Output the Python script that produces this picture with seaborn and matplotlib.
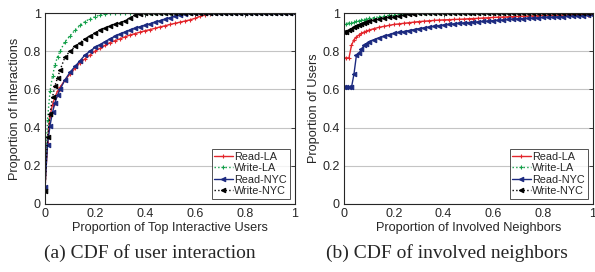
import matplotlib
matplotlib.use("Agg")
import matplotlib.pyplot as plt
import seaborn as sns

sns.set_style("white")
plt.rcParams["font.family"] = ["Liberation Sans", "DejaVu Sans"]

# ---- panel (a): CDF of user interaction ----
x_a = [0.00, 0.01, 0.02, 0.03, 0.04, 0.05, 0.06, 0.08, 0.10, 0.12, 0.14, 0.16, 0.18,
       0.20, 0.22, 0.24, 0.26, 0.28, 0.30, 0.32, 0.34, 0.36, 0.38, 0.40, 0.42, 0.44,
       0.46, 0.48, 0.50, 0.52, 0.54, 0.56, 0.58, 0.60, 0.62, 0.64, 0.66, 0.68, 0.70,
       0.72, 0.74, 0.76, 0.78, 0.80, 0.82, 0.84, 0.86, 0.88, 0.90, 0.92, 0.94, 0.96,
       0.98, 1.00]
read_la_a = [0.08, 0.32, 0.46, 0.52, 0.56, 0.59, 0.61, 0.65, 0.68, 0.71, 0.74, 0.76, 0.78,
             0.80, 0.815, 0.83, 0.845, 0.855, 0.865, 0.875, 0.885, 0.892, 0.90, 0.907, 0.913,
             0.92, 0.927, 0.933, 0.94, 0.946, 0.952, 0.958, 0.964, 0.972, 0.982, 0.99, 0.997,
             1.0, 1.0, 1.0, 1.0, 1.0, 1.0, 1.0, 1.0, 1.0, 1.0, 1.0, 1.0, 1.0, 1.0, 1.0,
             1.0, 1.0]
write_la_a = [0.08, 0.44, 0.59, 0.67, 0.73, 0.77, 0.80, 0.85, 0.88, 0.91, 0.935, 0.955, 0.97,
              0.98, 0.99, 0.997, 1.0, 1.0, 1.0, 1.0, 1.0, 1.0, 1.0, 1.0, 1.0, 1.0,
              1.0, 1.0, 1.0, 1.0, 1.0, 1.0, 1.0, 1.0, 1.0, 1.0, 1.0, 1.0, 1.0,
              1.0, 1.0, 1.0, 1.0, 1.0, 1.0, 1.0, 1.0, 1.0, 1.0, 1.0, 1.0, 1.0,
              1.0, 1.0]
read_nyc_a = [0.09, 0.31, 0.41, 0.48, 0.53, 0.57, 0.60, 0.65, 0.69, 0.72, 0.75, 0.78, 0.80,
              0.82, 0.835, 0.85, 0.865, 0.878, 0.89, 0.90, 0.91, 0.92, 0.928, 0.935, 0.943,
              0.952, 0.96, 0.967, 0.975, 0.983, 0.99, 0.997, 1.0, 1.0, 1.0, 1.0, 1.0,
              1.0, 1.0, 1.0, 1.0, 1.0, 1.0, 1.0, 1.0, 1.0, 1.0, 1.0, 1.0, 1.0, 1.0, 1.0,
              1.0, 1.0]
write_nyc_a = [0.07, 0.35, 0.47, 0.56, 0.62, 0.66, 0.70, 0.77, 0.80, 0.825, 0.845, 0.865, 0.88,
               0.895, 0.91, 0.92, 0.93, 0.94, 0.95, 0.96, 0.975, 0.99, 0.997, 1.0, 1.0, 1.0,
               1.0, 1.0, 1.0, 1.0, 1.0, 1.0, 1.0, 1.0, 1.0, 1.0, 1.0, 1.0, 1.0,
               1.0, 1.0, 1.0, 1.0, 1.0, 1.0, 1.0, 1.0, 1.0, 1.0, 1.0, 1.0, 1.0,
               1.0, 1.0]

# ---- panel (b): CDF of involved neighbors ----
x_b = [0.00, 0.01, 0.02, 0.03, 0.04, 0.05, 0.06, 0.07, 0.08, 0.09, 0.10,
       0.12, 0.14, 0.16, 0.18, 0.20, 0.22, 0.24, 0.26, 0.28, 0.30,
       0.32, 0.34, 0.36, 0.38, 0.40, 0.42, 0.44, 0.46, 0.48, 0.50,
       0.52, 0.54, 0.56, 0.58, 0.60, 0.62, 0.64, 0.66, 0.68, 0.70,
       0.72, 0.74, 0.76, 0.78, 0.80, 0.82, 0.84, 0.86, 0.88, 0.90,
       0.92, 0.94, 0.96, 0.98, 1.00]
read_la_b = [0.765, 0.765, 0.765, 0.83, 0.86, 0.875, 0.885, 0.893, 0.90, 0.905, 0.91,
             0.918, 0.925, 0.93, 0.935, 0.94, 0.943, 0.946, 0.949, 0.952, 0.955,
             0.957, 0.959, 0.961, 0.963, 0.964, 0.965, 0.966, 0.967, 0.968, 0.970,
             0.971, 0.972, 0.974, 0.975, 0.977, 0.978, 0.979, 0.98, 0.981, 0.982,
             0.983, 0.984, 0.985, 0.986, 0.987, 0.987, 0.988, 0.989, 0.989, 0.99,
             0.991, 0.991, 0.992, 0.992, 0.993]
write_la_b = [0.94, 0.945, 0.948, 0.95, 0.953, 0.956, 0.959, 0.962, 0.965, 0.968, 0.972,
              0.976, 0.98, 0.984, 0.988, 0.991, 0.994, 0.997, 1.0, 1.0, 1.0,
              1.0, 1.0, 1.0, 1.0, 1.0, 1.0, 1.0, 1.0, 1.0, 1.0,
              1.0, 1.0, 1.0, 1.0, 1.0, 1.0, 1.0, 1.0, 1.0, 1.0,
              1.0, 1.0, 1.0, 1.0, 1.0, 1.0, 1.0, 1.0, 1.0, 1.0,
              1.0, 1.0, 1.0, 1.0, 1.0]
read_nyc_b = [0.61, 0.61, 0.61, 0.61, 0.68, 0.78, 0.79, 0.81, 0.83, 0.84, 0.85,
              0.86, 0.87, 0.878, 0.886, 0.893, 0.898, 0.903, 0.908, 0.913, 0.918,
              0.922, 0.926, 0.93, 0.934, 0.937, 0.94, 0.943, 0.946, 0.948, 0.95,
              0.952, 0.954, 0.956, 0.958, 0.96, 0.962, 0.964, 0.966, 0.968, 0.97,
              0.971, 0.972, 0.974, 0.975, 0.977, 0.978, 0.979, 0.98, 0.981, 0.983,
              0.984, 0.985, 0.986, 0.987, 0.988]
write_nyc_b = [0.90, 0.902, 0.91, 0.918, 0.925, 0.932, 0.938, 0.943, 0.948, 0.953, 0.957,
               0.963, 0.968, 0.973, 0.977, 0.981, 0.985, 0.989, 0.993, 0.997, 1.0,
               1.0, 1.0, 1.0, 1.0, 1.0, 1.0, 1.0, 1.0, 1.0, 1.0,
               1.0, 1.0, 1.0, 1.0, 1.0, 1.0, 1.0, 1.0, 1.0, 1.0,
               1.0, 1.0, 1.0, 1.0, 1.0, 1.0, 1.0, 1.0, 1.0, 1.0,
               1.0, 1.0, 1.0, 1.0, 1.0]

labels = ["Read-LA", "Write-LA", "Read-NYC", "Write-NYC"]
colors = ["#e3262c", "#14a04a", "#1c2a80", "#000000"]
markers = ["+", "+", "<", "<"]
msizes = [3.5, 3.5, 3.2, 3.2]
lstyles = ["-", ":", "-", ":"]
ticks = [0, 0.2, 0.4, 0.6, 0.8, 1]
tick_labels = ["0", "0.2", "0.4", "0.6", "0.8", "1"]

fig = plt.figure(figsize=(5.95, 2.72), dpi=100)
ax_a = fig.add_axes([45 / 595, 68 / 272, 250 / 595, 191 / 272])
ax_b = fig.add_axes([344 / 595, 68 / 272, 249 / 595, 191 / 272])

panels = [
    (ax_a, x_a, [read_la_a, write_la_a, read_nyc_a, write_nyc_a],
     "Proportion of Top Interactive Users", "Proportion of Interactions"),
    (ax_b, x_b, [read_la_b, write_la_b, read_nyc_b, write_nyc_b],
     "Proportion of Involved Neighbors", "Proportion of Users"),
]

for ax, xs, series, xlab, ylab in panels:
    for ys, lab, c, m, ms, ls in zip(series, labels, colors, markers, msizes, lstyles):
        sns.lineplot(x=xs, y=ys, ax=ax, color=c, marker=m, linestyle=ls,
                     linewidth=1.0, markersize=ms, markeredgewidth=0.8,
                     markerfacecolor=c, markeredgecolor=c, label=lab)
    ax.set_xlim(0, 1)
    ax.set_ylim(0, 1)
    ax.set_xticks(ticks)
    ax.set_xticklabels(tick_labels)
    ax.set_yticks(ticks)
    ax.set_yticklabels(tick_labels)
    ax.yaxis.grid(True, color="#c4c4c4", linewidth=0.8)
    ax.set_axisbelow(True)
    ax.tick_params(direction="in", top=True, right=True, length=3, width=0.6,
                   labelsize=9, pad=3, colors="#262626")
    for sp in ax.spines.values():
        sp.set_color("#262626")
        sp.set_linewidth(0.8)
    ax.set_xlabel(xlab, fontsize=9.2, labelpad=1, color="#262626")
    ax.set_ylabel(ylab, fontsize=9.2, labelpad=2, color="#262626")
    leg = ax.legend(loc="lower right", fontsize=7.8, frameon=True, fancybox=False,
                    edgecolor="#262626", handlelength=1.7, handletextpad=0.15,
                    borderpad=0.25, labelspacing=0.12, borderaxespad=0.5)
    leg.get_frame().set_linewidth(0.7)

fig.text(44 / 595, 1 - 253 / 272, "(a) CDF of user interaction", fontsize=14,
         family="Liberation Serif", ha="left", va="center")
fig.text(326 / 595, 1 - 253 / 272, "(b) CDF of involved neighbors", fontsize=14,
         family="Liberation Serif", ha="left", va="center")

fig.savefig("out.png", dpi=100, facecolor="white")
